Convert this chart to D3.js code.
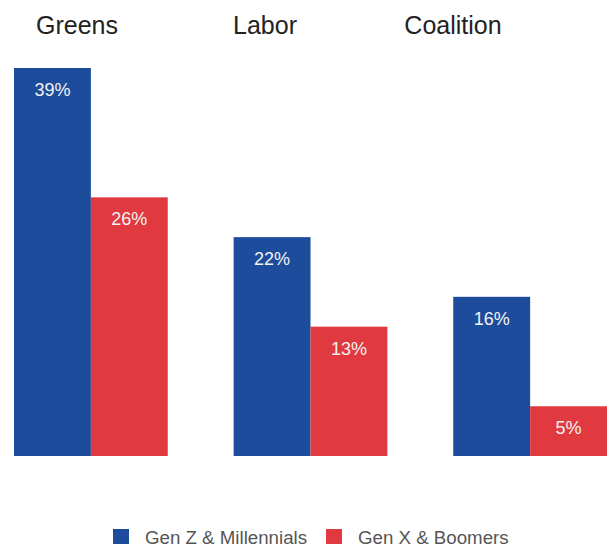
<!DOCTYPE html>
<html>
<head>
<meta charset="utf-8">
<script src="https://cdn.jsdelivr.net/npm/d3@7"></script>
<style>
  body { margin: 0; background: #fff; }
  text { font-family: "Liberation Sans", Arial, sans-serif; }
</style>
</head>
<body>
<svg id="chart" width="610" height="549"></svg>
<script>
// data
var parties = ['Greens', 'Labor', 'Coalition'];
var groups = ['Gen Z & Millennials', 'Gen X & Boomers'];
var genZMill = [39, 22, 16];
var genXBoom = [26, 13, 5];
var colors = ['#1d4c9c', '#e0393f'];

var rows = [];
parties.forEach(function(p, i) {
  rows.push({party: p, group: groups[0], value: genZMill[i]});
  rows.push({party: p, group: groups[1], value: genXBoom[i]});
});

var svg = d3.select('#chart');

var x0 = d3.scaleBand().domain(parties).range([14, 607]).paddingInner(0.3);
var x1 = d3.scaleBand().domain(groups).range([0, x0.bandwidth()]);
var y = d3.scaleLinear().domain([0, 39]).range([456, 68]);
var color = d3.scaleOrdinal().domain(groups).range(colors);
// facet titles sit at their own spots, not centred on the bars
var tx = d3.scalePoint().domain(parties).range([77, 453]);

// facet titles
svg.selectAll('text.title')
  .data(parties)
  .enter()
  .append('text')
    .attr('class', 'title')
    .attr('x', function(d) { return tx(d); })
    .attr('y', 34)
    .attr('text-anchor', 'middle')
    .attr('font-size', 25)
    .attr('fill', '#222')
    .text(function(d) { return d; });

// bars
var bars = svg.append('g');
bars.selectAll('rect')
  .data(rows)
  .enter()
  .append('rect')
    .attr('x', function(d) { return x0(d.party) + x1(d.group); })
    .attr('y', function(d) { return y(d.value); })
    .attr('width', x1.bandwidth())
    .attr('height', function(d) { return y(0) - y(d.value); })
    .attr('fill', function(d) { return color(d.group); });

// value labels inside bars
bars.selectAll('text')
  .data(rows)
  .enter()
  .append('text')
    .attr('x', function(d) { return x0(d.party) + x1(d.group) + x1.bandwidth() / 2; })
    .attr('y', function(d) { return y(d.value) + 28; })
    .attr('text-anchor', 'middle')
    .attr('font-size', 18)
    .attr('fill', '#f2f2f2')
    .text(function(d) { return d.value + '%'; });

// legend
var lx = [113, 326];
var legend = svg.append('g').selectAll('g')
  .data(groups)
  .enter()
  .append('g')
    .attr('transform', function(d, i) { return 'translate(' + lx[i] + ',529)'; });
legend.append('rect')
  .attr('width', 16)
  .attr('height', 15)
  .attr('fill', function(d) { return color(d); });
legend.append('text')
  .attr('x', 32)
  .attr('y', 15)
  .attr('font-size', 18.7)
  .attr('fill', '#555')
  .text(function(d) { return d; });
</script>
</body>
</html>
